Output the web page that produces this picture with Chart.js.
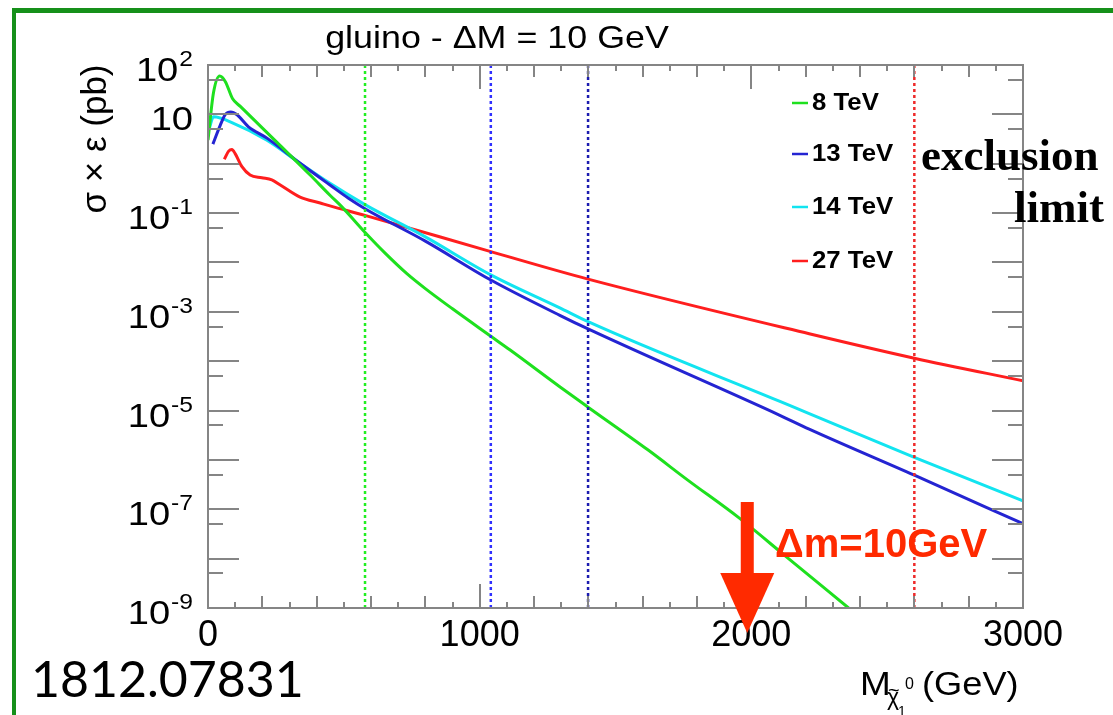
<!DOCTYPE html>
<html>
<head>
<meta charset="utf-8">
<script src="https://cdn.jsdelivr.net/npm/chart.js@4.4.0/dist/chart.umd.min.js"></script>
<style>
  html, body { margin: 0; padding: 0; background: #fff; }
  #wrap { width: 1113px; height: 715px; }
</style>
</head>
<body>
<div id="wrap"><canvas id="c" width="1113" height="715"></canvas></div>
<script>
// sigma x eff (pb) vs neutralino mass (GeV)
const mass8  = [0, 20, 43, 64, 90, 119, 254, 376, 449, 492, 581, 650, 731, 800, 900, 1041, 1111, 1296, 1399, 1619, 1766, 1956, 2128, 2358];
const xsec8  = [3.0, 27, 60, 46, 21, 14.5, 2.7, 0.59, 0.23, 0.135, 0.039, 0.0158, 6.0e-3, 2.95e-3, 1.15e-3, 3.2e-4, 1.7e-4, 3.0e-5, 1.17e-5, 1.6e-6, 3.9e-7, 6.6e-8, 1.1e-8, 1.0e-9];

const mass13 = [18, 45, 64, 84, 107, 149, 217, 339, 449, 517, 581, 800, 1041, 1295, 1399, 2103, 2213, 2600, 3000];
const xsec13 = [2.5, 6.0, 10, 11.2, 9.8, 5.6, 3.3, 1.02, 0.37, 0.20, 0.12, 0.027, 4.4e-3, 8.5e-4, 4.5e-4, 8.1e-6, 4.2e-6, 4.9e-7, 5.1e-8];

const mass14 = [5, 20, 94, 217, 339, 449, 581, 800, 1041, 1295, 1399, 2103, 2213, 2600, 3000];
const xsec14 = [5.2, 8.9, 6.6, 3.0, 1.02, 0.40, 0.145, 0.033, 5.6e-3, 1.2e-3, 6.3e-4, 1.55e-5, 8.7e-6, 1.12e-6, 1.48e-7];

const mass27 = [60, 76, 88, 100, 125, 155, 198, 235, 266, 339, 413, 449, 581, 1041, 1399, 2213, 2600, 3000];
const xsec27 = [1.23, 1.8, 1.95, 1.6, 0.87, 0.59, 0.52, 0.47, 0.37, 0.21, 0.16, 0.14, 0.089, 0.0166, 4.6e-3, 3.6e-4, 1.15e-4, 4.0e-5];

const seriesLabels = ['8 TeV', '13 TeV', '14 TeV', '27 TeV'];
const seriesColors = ['#1ee01e', '#2424d2', '#12e4f0', '#ff1e1e'];

// exclusion limits (vertical dotted lines)
const limitMass   = [578, 1041, 1399, 2600];
const limitColors = ['#22ee22', '#3030ff', '#1c1cb0', '#ee2a2a'];

const xTickValues = [0, 1000, 2000, 3000];
const yLabelExps  = [2, 1, -1, -3, -5, -7, -9];
const arrowMass = 1985;

const SANS = "'Liberation Sans', Arial, sans-serif";
const SX = 1.12; // the ROOT canvas is a bit stretched sideways

function stretchText(ctx, txt, x, y, sx) {
  ctx.save();
  ctx.translate(x, y);
  ctx.scale(sx, 1);
  ctx.fillText(txt, 0, 0);
  ctx.restore();
}

const datasets = [];
limitMass.forEach((m, i) => {
  datasets.push({
    data: [{ x: m, y: 1e-9 }, { x: m, y: 1e2 }],
    borderColor: limitColors[i], borderWidth: 2.5, borderDash: [3, 3],
    pointRadius: 0, fill: false
  });
});
[[mass8, xsec8], [mass13, xsec13], [mass14, xsec14], [mass27, xsec27]].forEach(([ms, vs], i) => {
  datasets.push({
    label: seriesLabels[i],
    data: ms.map((m, k) => ({ x: m, y: vs[k] })),
    borderColor: seriesColors[i], borderWidth: 3,
    pointRadius: 0, fill: false, cubicInterpolationMode: 'monotone'
  });
});

const decor = {
  id: 'decor',
  beforeDraw(chart) {
    const ctx = chart.ctx;
    ctx.save();
    ctx.fillStyle = '#fff';
    ctx.fillRect(0, 0, chart.width, chart.height);
    // green slide frame
    ctx.fillStyle = '#16901a';
    ctx.fillRect(12, 8, chart.width - 12, 5);
    ctx.fillRect(12, 8, 4, chart.height - 8);
    ctx.restore();
  },
  afterDatasetsDraw(chart) {
    const ctx = chart.ctx;
    const a = chart.chartArea;
    const xs = chart.scales.x, ys = chart.scales.y;
    ctx.save();
    ctx.strokeStyle = '#858585';
    ctx.lineWidth = 2;
    ctx.beginPath();
    for (let m = 0; m <= 3000; m += 100) {
      const px = Math.round(xs.getPixelForValue(m));
      const len = m % 1000 === 0 ? 24 : (m % 200 === 0 ? 12 : 6);
      ctx.moveTo(px, a.bottom); ctx.lineTo(px, a.bottom - len);
      ctx.moveTo(px, a.top); ctx.lineTo(px, a.top + len);
    }
    for (let e = -9; e <= 2; e++) {
      const py = Math.round(ys.getPixelForValue(Math.pow(10, e)));
      ctx.moveTo(a.left, py); ctx.lineTo(a.left + 31, py);
      ctx.moveTo(a.right, py); ctx.lineTo(a.right - 31, py);
      if (e < 2) {
        const ph = Math.round(ys.getPixelForValue(5 * Math.pow(10, e)));
        ctx.moveTo(a.left, ph); ctx.lineTo(a.left + 15, ph);
        ctx.moveTo(a.right, ph); ctx.lineTo(a.right - 15, ph);
      }
    }
    ctx.stroke();
    ctx.strokeRect(a.left, a.top, a.right - a.left, a.bottom - a.top);

    // y tick labels with superscripts
    ctx.fillStyle = '#000';
    ctx.textBaseline = 'alphabetic';
    ctx.textAlign = 'left';
    yLabelExps.forEach(e => {
      const py = ys.getPixelForValue(Math.pow(10, e));
      const base = py + 16;
      ctx.font = '34px ' + SANS;
      const wb = ctx.measureText('10').width * SX;
      let ws = 0;
      const sup = e === 1 ? '' : String(e);
      if (sup) {
        ctx.font = '22px ' + SANS;
        ws = ctx.measureText(sup).width * SX;
      }
      const x0 = 193 - ws - wb - (sup ? 1 : 0);
      ctx.font = '34px ' + SANS;
      stretchText(ctx, '10', x0, base, SX);
      if (sup) {
        ctx.font = '22px ' + SANS;
        stretchText(ctx, sup, x0 + wb + 1, base - 15, SX);
      }
    });

    // legend
    ctx.font = 'bold 23px ' + SANS;
    ctx.textBaseline = 'middle';
    const legY = [103, 154, 207, 261];
    seriesLabels.forEach((lab, i) => {
      ctx.strokeStyle = seriesColors[i];
      ctx.lineWidth = 2.5;
      ctx.beginPath();
      ctx.moveTo(792, legY[i]); ctx.lineTo(808, legY[i]);
      ctx.stroke();
      ctx.fillStyle = '#000';
      stretchText(ctx, lab, 812, legY[i] + 1, SX);
    });
    ctx.restore();
  },
  afterDraw(chart) {
    const ctx = chart.ctx;
    const xs = chart.scales.x;
    ctx.save();
    ctx.fillStyle = '#000';
    // title
    ctx.font = '32px ' + SANS;
    ctx.textBaseline = 'alphabetic';
    ctx.textAlign = 'left';
    const title = 'gluino - \u0394M = 10 GeV';
    const tw = ctx.measureText(title).width * SX;
    stretchText(ctx, title, 497 - tw / 2, 48, SX);

    // y title
    ctx.save();
    ctx.translate(106, 139);
    ctx.rotate(-Math.PI / 2);
    ctx.textAlign = 'center';
    ctx.font = '35px ' + SANS;
    ctx.fillText('\u03c3 \u00d7 \u03b5 (pb)', 0, 0);
    ctx.restore();

    // x title  M_{chi~0_1} (GeV)
    ctx.font = '33px ' + SANS;
    stretchText(ctx, 'M', 860, 695, SX);
    ctx.font = '23px ' + SANS;
    stretchText(ctx, '\u03c7', 887, 705, 1);
    ctx.font = '20px ' + SANS;
    stretchText(ctx, '~', 888, 697, 1);
    ctx.font = '16px ' + SANS;
    stretchText(ctx, '0', 905, 689, 1);
    ctx.font = '14px ' + SANS;
    stretchText(ctx, '1', 898, 716, 1);
    ctx.font = '33px ' + SANS;
    stretchText(ctx, '(GeV)', 922, 695, SX * 0.98);

    // exclusion limit note
    ctx.font = "bold 45px 'Liberation Serif', 'Times New Roman', serif";
    ctx.textAlign = 'left';
    ctx.fillText('exclusion', 921, 170);
    ctx.textAlign = 'right';
    ctx.fillText('limit', 1104, 222);

    // arrow at the mass reach
    const cx = xs.getPixelForValue(arrowMass);
    ctx.fillStyle = '#ff2a00';
    ctx.fillRect(cx - 6.5, 502, 13, 73);
    ctx.beginPath();
    ctx.moveTo(cx - 27, 573);
    ctx.lineTo(cx + 27, 573);
    ctx.lineTo(cx, 633);
    ctx.closePath();
    ctx.fill();
    ctx.textAlign = 'left';
    ctx.font = 'bold 40px ' + SANS;
    ctx.fillText('\u0394m=10GeV', 775, 557);

    // arXiv number
    ctx.fillStyle = '#000';
    ctx.font = "50px Lato, 'Liberation Sans', sans-serif";
    ctx.fillText('1812.07831', 31, 697);
    ctx.restore();
  }
};

new Chart(document.getElementById('c'), {
  type: 'line',
  data: { datasets },
  options: {
    responsive: false,
    animation: false,
    events: [],
    layout: { padding: { left: 0, top: 65, right: 90, bottom: 0 } },
    plugins: { legend: { display: false }, tooltip: { enabled: false } },
    scales: {
      x: {
        type: 'linear', min: 0, max: 3000,
        afterBuildTicks: s => { s.ticks = xTickValues.map(v => ({ value: v })); },
        afterFit: s => { s.height = 107; },
        ticks: {
          color: '#000', padding: 6, maxRotation: 0, autoSkip: false,
          font: { family: SANS, size: 36 },
          callback: v => String(v)
        },
        grid: { display: false, drawTicks: false },
        border: { display: false }
      },
      y: {
        type: 'logarithmic', min: 1e-9, max: 1e2,
        afterFit: s => { s.width = 208; },
        ticks: { display: false },
        grid: { display: false, drawTicks: false },
        border: { display: false }
      }
    }
  },
  plugins: [decor]
});
</script>
</body>
</html>
